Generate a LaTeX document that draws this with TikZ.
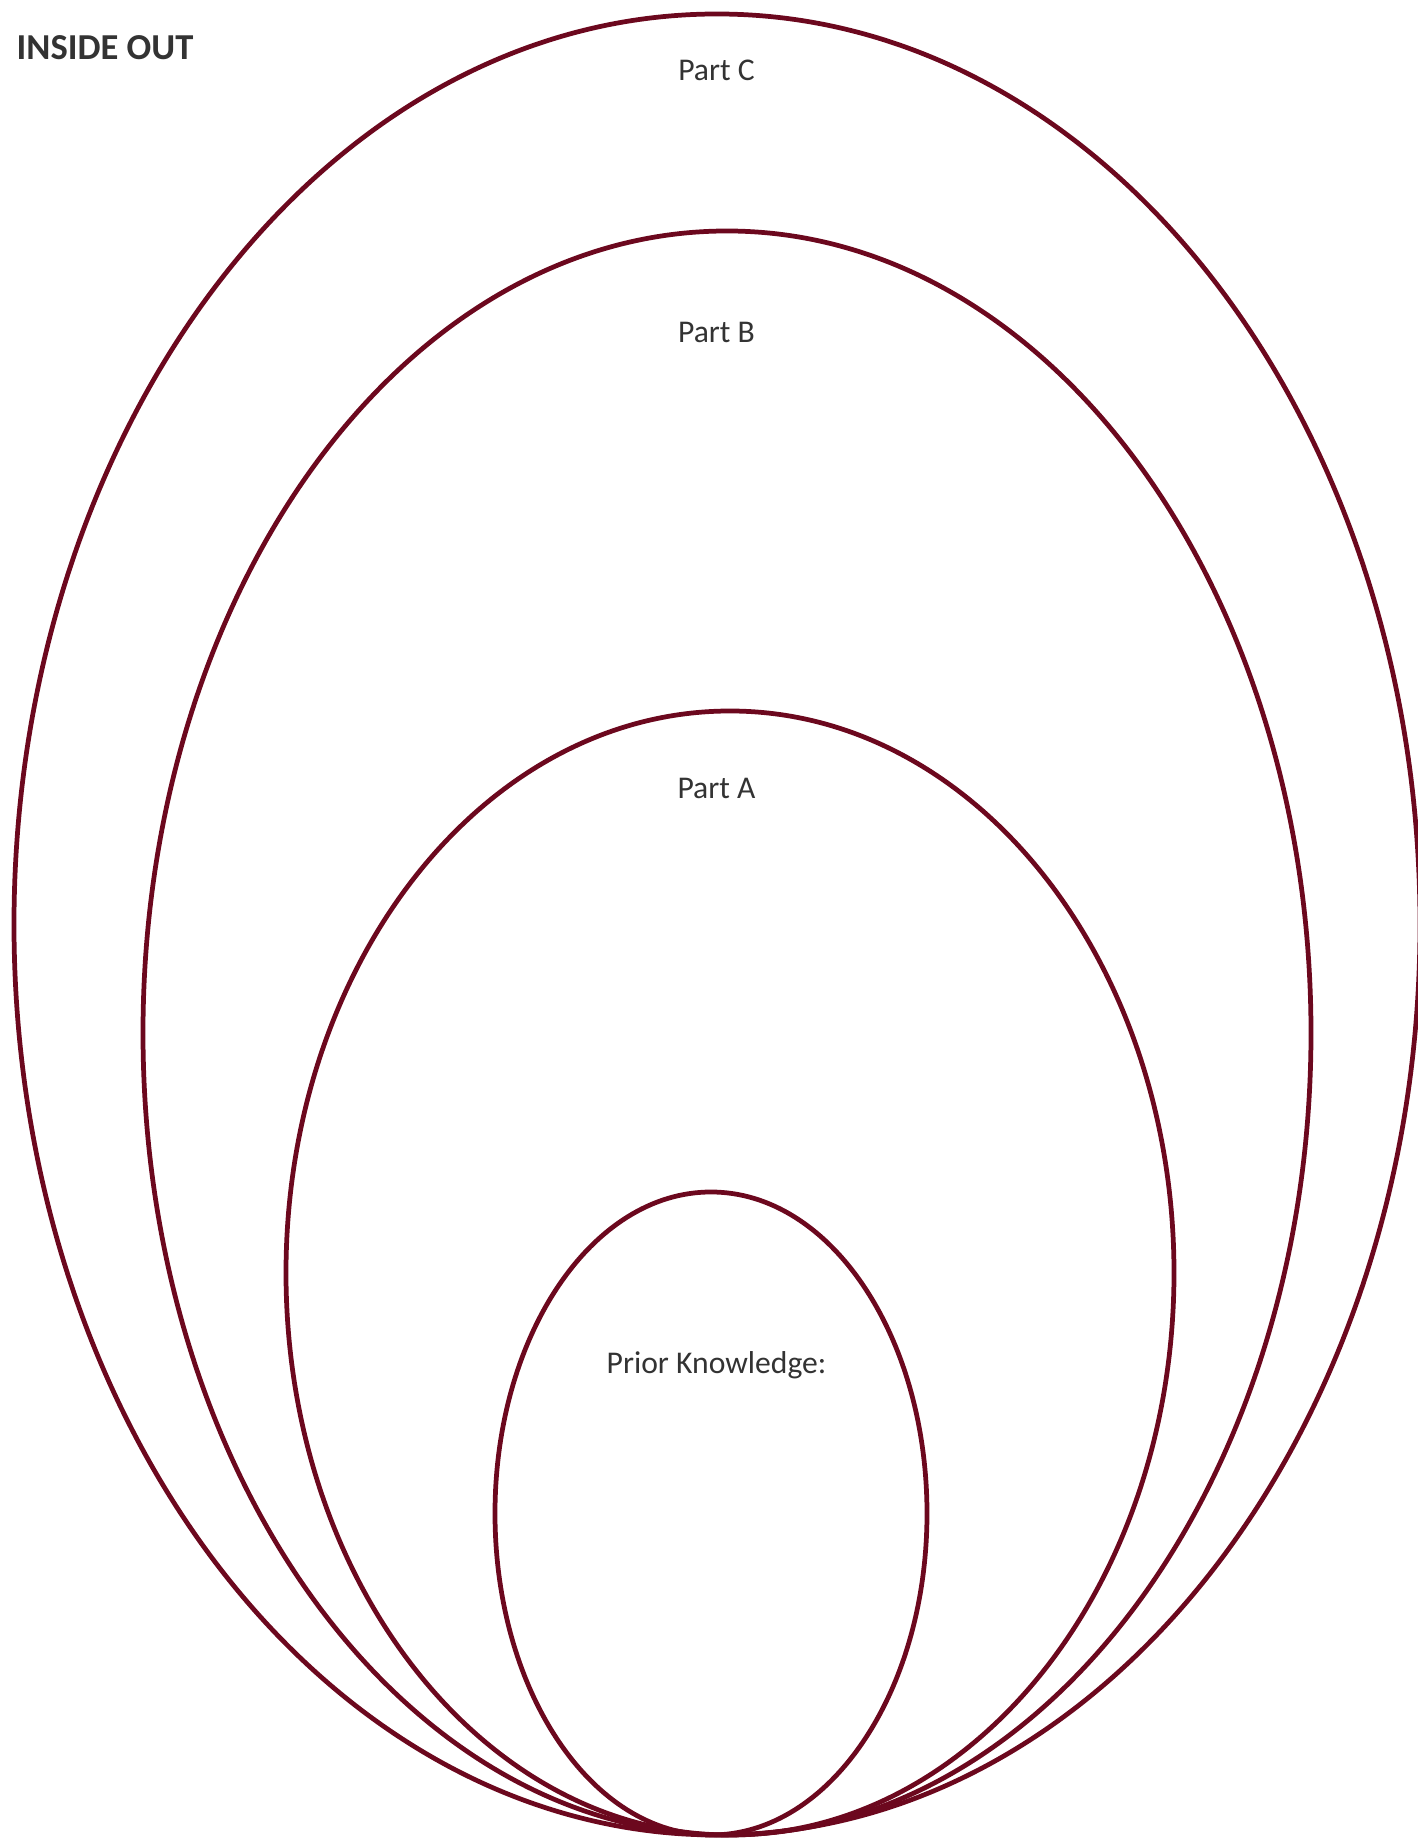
\documentclass[tikz,border=0pt]{standalone}
\usepackage{fontspec}
\setmainfont{Carlito}
\usepackage{tikz}
\usetikzlibrary{shapes,calc}
\definecolor{maroon}{RGB}{108,8,30}
\definecolor{txtgray}{RGB}{51,51,51}

\begin{document}
\begin{tikzpicture}[ring/.style={draw=maroon, line width=1.35pt, ellipse, inner sep=0pt}, lbl/.style={text=txtgray, font=\fontsize{9}{10}\selectfont, anchor=base}]
  \useasboundingbox (0,0) rectangle (14.18,18.38);
  %rings
  \node[ring, minimum width=14.06cm, minimum height=18.21cm](C) at (7.17,9.135){};
  \node[ring, minimum width=11.68cm, minimum height=16.04cm](B) at (7.27,8.05){};
  \node[ring, minimum width=8.88cm, minimum height=11.24cm](A) at (7.30,5.65){};
  \node[ring, minimum width=4.32cm, minimum height=6.43cm](P) at (7.11,3.245){};
  % Labels
  \node[text=txtgray, font=\fontsize{10.4}{12}\selectfont\bfseries, anchor=base west, inner sep=0pt](title) at (0.16,17.78){INSIDE OUT};
  \node[lbl](lC) at (7.165,17.57){Part C};
  \node[lbl](lB) at (7.165,14.95){Part B};
  \node[lbl](lA) at (7.165,10.39){Part A};
  \node[lbl](lP) at (7.165,4.64){Prior Knowledge:};
\end{tikzpicture}
\end{document}
